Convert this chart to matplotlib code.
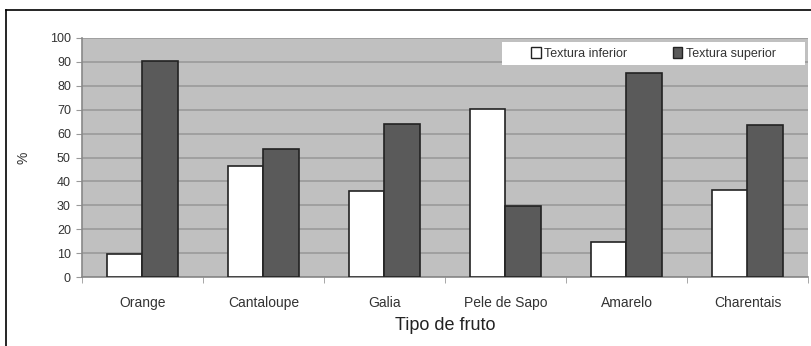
import matplotlib.pyplot as plt
import numpy as np
from matplotlib.lines import Line2D
from matplotlib.patches import Patch, Rectangle

plt.rcParams['font.family'] = ['Liberation Sans', 'DejaVu Sans']

frutos = ["Orange", "Cantaloupe", "Galia", "Pele de Sapo", "Amarelo", "Charentais"]
textura_inferior = [9.5, 46.5, 36, 70.5, 14.5, 36.5]
textura_superior = [90.5, 53.5, 64, 29.5, 85.5, 63.5]

W, H = 812, 346


def main():
    fig = plt.figure(figsize=(W / 100, H / 100), dpi=100)
    ax = fig.add_axes([82 / W, 1 - 277 / H, (808 - 82) / W, (277 - 38) / H])
    ax.set_facecolor("#c0c0c0")

    x = np.arange(len(frutos))
    ancho = 0.29
    ax.bar(x - ancho / 2, textura_inferior, ancho, color="white",
           edgecolor="#222222", linewidth=1.2, zorder=3)
    ax.bar(x + ancho / 2, textura_superior, ancho, color="#5a5a5a",
           edgecolor="#222222", linewidth=1.2, zorder=3)

    ax.set_xlim(-0.5, len(frutos) - 0.5)
    ax.set_ylim(0, 100)
    ax.set_yticks(np.arange(0, 101, 10))
    ax.yaxis.grid(True, color="#9a9a9a", linewidth=1.2, zorder=0)
    ax.set_axisbelow(True)

    ax.set_xticks(x)
    ax.set_xticklabels(frutos)
    ax.set_xticks(np.arange(-0.5, len(frutos)), minor=True)
    ax.tick_params(axis="x", which="major", length=0, pad=14,
                   labelsize=10, labelcolor="#333333")
    ax.tick_params(axis="x", which="minor", length=4, color="#999999")
    ax.tick_params(axis="y", length=4, color="#999999", pad=4,
                   labelsize=9, labelcolor="#333333")

    for lado in ["top", "right"]:
        ax.spines[lado].set_visible(False)
    ax.spines["left"].set_color("#888888")
    ax.spines["bottom"].set_color("#888888")
    ax.spines["left"].set_linewidth(1.2)
    ax.spines["bottom"].set_linewidth(1.2)

    ax.set_xlabel("Tipo de fruto", fontsize=13, color="#222222", labelpad=5)
    ax.set_ylabel("%", fontsize=10, color="#333333", labelpad=14)

    # caja blanca de la leyenda
    x0, y0 = (502 - 82) / 726, (277 - 65) / 239
    bw, bh = 303 / 726, 23 / 239
    ax.add_patch(Rectangle((x0, y0), bw, bh, transform=ax.transAxes,
                           facecolor="white", edgecolor="none", zorder=4))

    handles = [Patch(facecolor="white", edgecolor="#222222", label="Textura inferior"),
               Patch(facecolor="#5a5a5a", edgecolor="#222222", label="Textura superior")]
    leg = ax.legend(handles=handles, ncol=2, loc="center",
                    bbox_to_anchor=(x0 + bw / 2, y0 + bh / 2), fontsize=9,
                    frameon=False, handlelength=0.75, handleheight=0.9,
                    handletextpad=0.3, columnspacing=3.6, borderpad=0.2)
    leg.set_zorder(5)
    for t in leg.get_texts():
        t.set_color("#333333")

    # marco exterior
    fig.add_artist(Line2D([6 / W, 1], [1 - 10 / H, 1 - 10 / H], color="black", linewidth=1.2))
    fig.add_artist(Line2D([6 / W, 6 / W], [0, 1 - 10 / H], color="black", linewidth=1.2))

    fig.savefig("out.png", dpi=100)


if __name__ == "__main__":
    main()
